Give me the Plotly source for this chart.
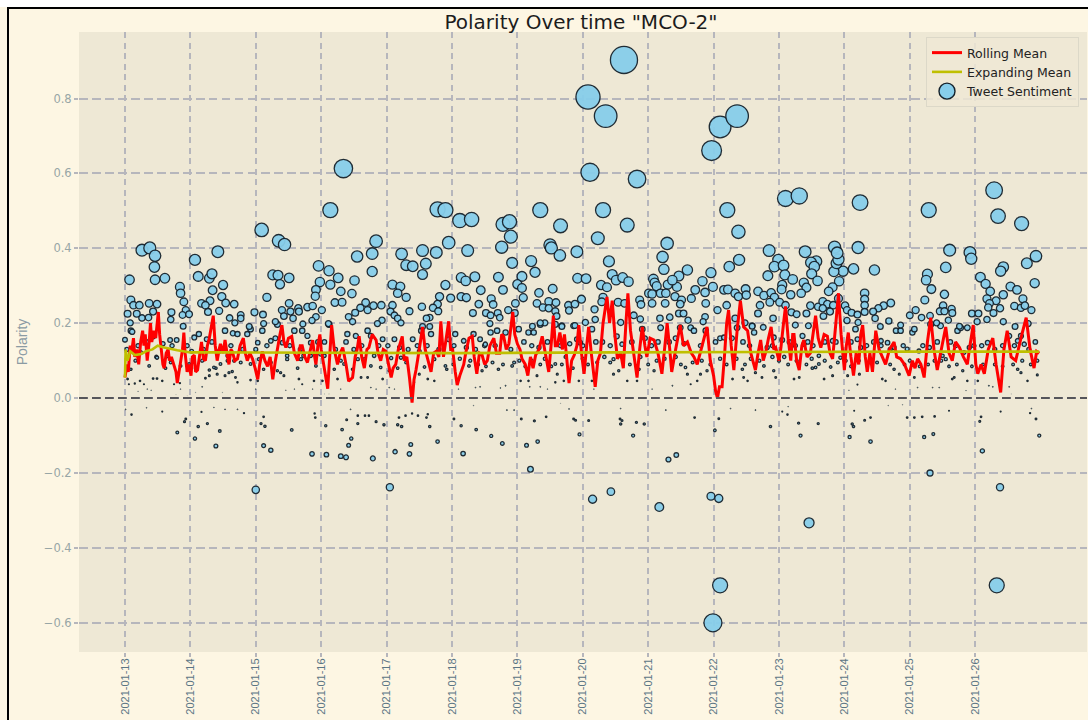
import pandas as pd
import plotly.graph_objects as go

START = "2021-01-13"
tick_dates = ["2021-01-%02d" % d for d in range(13, 27)]
y_ticks = [-0.6, -0.4, -0.2, 0.0, 0.2, 0.4, 0.6, 0.8]
y_tick_text = ["\u22120.6", "\u22120.4", "\u22120.2", "0.0", "0.2", "0.4", "0.6", "0.8"]

# (days since 2021-01-13, polarity)
tweets_peak = [(7.08,0.804),(7.35,0.753),(7.63,0.903),(9.10,0.724),(9.36,0.753),(8.97,0.661),(7.11,0.603),(7.83,0.585),
(3.34,0.613),(3.14,0.502),(8.99,-0.6),(9.10,-0.5),(13.33,-0.5),(10.46,-0.333),(8.17,-0.291),(7.15,-0.27),(7.43,-0.25),
(8.96,-0.262),(9.08,-0.268),(2.0,-0.245),(4.05,-0.238),(13.38,-0.238),(6.2,-0.19),(12.31,-0.2)]

tweets_upper_a = [(2.09,0.449),(2.35,0.420),(2.44,0.410),(3.84,0.419),(0.26,0.395),(0.38,0.401),(0.46,0.380),(0.45,0.350),(0.07,0.316),(0.46,0.316),(0.61,0.320),(1.07,0.369),(1.42,0.391),(1.12,0.325),(1.29,0.320),(1.33,0.332),(1.50,0.302),(0.84,0.297),(0.85,0.280),(1.34,0.288),(1.48,0.271),(0.90,0.257),(1.30,0.260),(1.17,0.253),(1.23,0.248),(1.54,0.254),(1.67,0.251),(0.09,0.262),(0.13,0.248),(0.22,0.248),(0.37,0.253),(0.49,0.251),(0.43,0.231),(0.71,0.229),(0.93,0.235),(0.88,0.222),(0.98,0.224),(1.27,0.230),(1.44,0.233),(0.04,0.225),(0.18,0.225),(0.26,0.214),(0.36,0.215),(0.70,0.210),(0.08,0.201),(0.89,0.192),(1.60,0.214),(1.77,0.222),(1.77,0.213),(1.98,0.229),(2.11,0.223),(1.68,0.201),(2.17,0.269),(2.26,0.329),(2.34,0.328),(2.51,0.321),(2.37,0.304),(2.96,0.353),(3.12,0.340),(3.26,0.321),(3.55,0.378),(3.78,0.386),(3.78,0.338),(3.51,0.314),(4.23,0.385),(4.30,0.355),(4.40,0.352),(2.98,0.310),(3.14,0.303),(2.92,0.289),(2.91,0.272),(3.30,0.285),(3.47,0.279),(4.09,0.303),(4.21,0.298),(4.17,0.280),(4.30,0.269),(3.21,0.255),(3.32,0.256),(3.68,0.255),(3.60,0.241),(3.71,0.235),(3.80,0.247),(3.92,0.248),(4.09,0.248),(4.06,0.231),(4.35,0.232),(4.12,0.221),(4.17,0.213),(4.22,0.201),(3.52,0.228),(3.42,0.217),(3.93,0.208),(3.48,0.204),(3.86,0.199),(3.11,0.199),(2.40,0.235),(2.51,0.253),(2.53,0.231),(2.65,0.240),(2.66,0.231),(2.79,0.243),(2.87,0.246),(3.01,0.235),(2.92,0.217),(2.43,0.219),(2.57,0.213),(2.86,0.207),(2.72,0.198),(2.30,0.204),(2.12,0.199),(1.90,0.191)]

tweets_upper_b = [(4.78,0.504),(4.90,0.502),(5.12,0.474),(5.30,0.477),(5.78,0.464),(5.88,0.471),(6.35,0.502),(6.66,0.460),(7.31,0.502),(7.68,0.462),(9.21,0.502),(7.23,0.427),(5.90,0.431),(4.95,0.415),(6.50,0.409),(6.52,0.401),(5.76,0.403),(5.24,0.394),(4.76,0.389),(4.55,0.394),(6.65,0.381),(6.91,0.391),(4.60,0.359),(4.55,0.330),(5.92,0.361),(6.21,0.366),(6.27,0.336),(6.07,0.325),(5.71,0.323),(5.14,0.322),(5.21,0.313),(5.35,0.324),(4.90,0.302),(5.44,0.288),(5.78,0.289),(6.00,0.304),(6.07,0.294),(6.33,0.281),(6.54,0.292),(6.09,0.268),(5.60,0.265),(4.81,0.271),(4.98,0.267),(5.14,0.271),(5.22,0.268),(4.78,0.251),(4.71,0.241),(4.79,0.232),(5.41,0.251),(5.63,0.250),(5.97,0.253),(5.32,0.227),(5.52,0.227),(5.59,0.221),(5.70,0.227),(5.86,0.235),(5.73,0.215),(5.96,0.227),(6.30,0.253),(6.39,0.242),(6.48,0.258),(6.48,0.240),(6.59,0.255),(6.58,0.232),(6.78,0.248),(6.79,0.234),(6.88,0.251),(6.98,0.264),(6.60,0.219),(6.92,0.320),(7.05,0.319),(7.40,0.365),(7.45,0.330),(7.28,0.302),(7.37,0.296),(7.51,0.315),(7.61,0.322),(7.70,0.311),(8.29,0.413),(8.22,0.377),(8.24,0.344),(8.60,0.342),(8.47,0.326),(8.08,0.318),(8.10,0.308),(8.13,0.299),(8.30,0.303),(8.44,0.297),(8.37,0.315),(8.96,0.335),(8.83,0.312),(9.24,0.351),(9.38,0.444),(9.39,0.369),(8.99,0.297),(8.87,0.282),(8.72,0.289),(8.01,0.280),(8.06,0.278),(8.19,0.280),(8.27,0.280),(8.41,0.271),(8.51,0.262),(8.66,0.266),(8.49,0.251),(8.26,0.253),(8.06,0.253),(7.87,0.262),(7.89,0.250),(7.54,0.256),(7.64,0.253),(7.31,0.269),(7.29,0.257),(7.18,0.237),(7.78,0.221),(8.88,0.253),(9.06,0.235),(9.16,0.289),(9.22,0.290),(9.33,0.280),(9.38,0.271),(9.20,0.248),(8.47,0.226),(8.54,0.226),(8.33,0.216),(8.18,0.213),(8.87,0.217),(8.84,0.204),(8.61,0.208),(9.33,0.213),(7.19,0.210),(7.04,0.202),(6.42,0.201),(6.35,0.201),(6.23,0.192),(6.88,0.194),(6.68,0.191),(4.66,0.215),(4.61,0.213),(4.54,0.244),(4.55,0.191),(4.66,0.191),(5.58,0.199)]

tweets_upper_c = [(10.10,0.533),(10.31,0.540),(11.24,0.522),(12.29,0.502),(13.29,0.555),(13.35,0.486),(13.71,0.466),(9.85,0.394),(10.40,0.391),(10.85,0.403),(11.21,0.402),(12.61,0.395),(12.92,0.389),(12.94,0.372),(13.93,0.379),(13.79,0.360),(13.43,0.350),(13.39,0.339),(12.55,0.349),(11.46,0.342),(11.14,0.345),(10.98,0.339),(10.84,0.338),(10.88,0.360),(10.91,0.370),(10.89,0.388),(10.57,0.365),(10.49,0.362),(10.54,0.351),(10.50,0.332),(10.59,0.313),(10.92,0.312),(10.38,0.308),(10.42,0.295),(10.82,0.296),(10.76,0.285),(9.99,0.369),(9.93,0.351),(10.07,0.354),(10.09,0.329),(9.83,0.327),(10.21,0.317),(10.05,0.302),(10.04,0.290),(13.08,0.323),(13.16,0.305),(13.54,0.298),(13.64,0.289),(13.91,0.307),(13.23,0.285),(13.43,0.276),(13.18,0.265),(13.32,0.260),(13.22,0.253),(13.20,0.242),(13.38,0.240),(13.73,0.265),(13.60,0.246),(13.70,0.241),(13.76,0.247),(13.86,0.235),(12.27,0.331),(12.25,0.315),(12.33,0.291),(12.53,0.277),(12.23,0.262),(11.31,0.280),(11.31,0.264),(11.31,0.248),(11.71,0.254),(11.60,0.247),(11.52,0.240),(11.44,0.231),(12.51,0.247),(12.64,0.238),(12.46,0.232),(12.53,0.232),(12.65,0.227),(12.09,0.235),(12.00,0.221),(12.18,0.215),(12.31,0.220),(12.95,0.226),(13.05,0.226),(13.28,0.227),(9.68,0.285),(9.49,0.291),(9.77,0.274),(9.88,0.281),(9.93,0.269),(9.50,0.275),(9.86,0.256),(9.71,0.248),(10.18,0.276),(10.34,0.280),(10.01,0.256),(10.10,0.248),(9.68,0.226),(10.19,0.229),(10.27,0.224),(10.42,0.226),(10.48,0.247),(10.60,0.244),(10.67,0.258),(10.74,0.251),(10.83,0.248),(10.67,0.240),(10.78,0.231),(10.68,0.219),(10.91,0.266),(11.01,0.247),(11.04,0.235),(11.11,0.228),(11.20,0.223),(11.31,0.230),(9.91,0.213),(11.04,0.207),(11.21,0.202),(11.47,0.213),(11.55,0.191),(11.68,0.206),(11.86,0.195),(12.41,0.201),(12.59,0.208),(12.76,0.192),(13.03,0.204),(13.18,0.210),(13.43,0.204),(13.81,0.199),(13.61,0.191),(9.48,0.201),(9.59,0.192),(9.76,0.189),(10.25,0.195),(10.45,0.193)]

tweets_negative = [(0.01,-0.03),(0.10,-0.044),(0.33,-0.026),(0.57,-0.036),(0.80,-0.092),(0.93,-0.056),(0.91,-0.063),(1.12,-0.076),(1.26,-0.068),(1.07,-0.108),(1.45,-0.088),(1.39,-0.128),(1.17,-0.037),(1.36,-0.025),(1.53,-0.03),(1.72,-0.03),(1.82,-0.04),(2.12,-0.05),(2.08,-0.068),(2.14,-0.075),(2.55,-0.085),(2.12,-0.127),(2.23,-0.139),(2.90,-0.041),(2.91,-0.052),(3.07,-0.074),(3.32,-0.084),(3.46,-0.108),(3.42,-0.126),(2.86,-0.149),(3.08,-0.151),(3.30,-0.155),(3.38,-0.158),(3.79,-0.161),(3.45,-0.03),(3.56,-0.047),(3.67,-0.047),(3.73,-0.047),(3.39,-0.058),(3.56,-0.068),(3.84,-0.063),(3.96,-0.071),(4.17,-0.071),(4.23,-0.076),(4.19,-0.052),(4.29,-0.047),(4.39,-0.041),(4.48,-0.047),(4.63,-0.043),(4.61,-0.052),(4.66,-0.076),(4.37,-0.124),(4.78,-0.116),(4.13,-0.143),(4.35,-0.149),
(5.03,-0.056),(5.14,-0.074),(5.37,-0.084),(5.60,-0.101),(5.77,-0.121),(6.14,-0.126),(6.31,-0.116),(5.33,-0.02),(5.17,-0.148),(6.06,-0.056),(6.26,-0.061),(6.44,-0.05),(5.84,-0.032),(5.95,-0.032),(6.66,-0.014),(6.79,-0.029),(6.86,-0.056),(6.89,-0.059),(7.09,-0.06),(6.95,-0.097),(7.58,-0.028),(7.57,-0.056),(7.60,-0.06),(7.58,-0.069),(7.77,-0.1),(7.82,-0.065),(7.94,-0.069),(8.27,-0.032),(8.71,-0.052),(9.08,-0.055),(9.02,-0.086),(8.43,-0.152),(8.31,-0.164),(9.26,-0.028),(9.64,-0.032),
(9.87,-0.076),(10.05,-0.036),(10.13,-0.044),(10.14,-0.023),(10.30,-0.067),(10.60,-0.068),(10.33,-0.1),(11.15,-0.034),(11.12,-0.069),(11.14,-0.076),(11.31,-0.059),(11.40,-0.052),(11.08,-0.104),(11.40,-0.116),(11.67,-0.02),(11.89,-0.018),(11.96,-0.052),(12.07,-0.052),(12.19,-0.05),(12.38,-0.049),(12.22,-0.104),(12.36,-0.096),(12.60,-0.034),(13.09,-0.05),(13.07,-0.062),(13.11,-0.141),(13.39,-0.036),(13.86,-0.028),(13.84,-0.04),(13.93,-0.056),(13.98,-0.1)]

tweets_low = [(0.04,0.051),(0.06,0.037),(0.15,0.039),(0.23,0.046),(0.29,0.037),(0.43,0.052),(0.49,0.052),(0.57,0.046),(0.75,0.037),(0.84,0.04),(0.85,0.024),(0.20,0.018),(0.34,0.024),(0.40,0.021),(0.78,0.009),(0.95,0.006),(1.08,0.015),(1.18,0.03),(1.23,0.053),(1.29,0.06),(1.41,0.064),(1.53,0.06),(1.59,0.068),(1.69,0.055),(1.72,0.042),(1.49,0.015),(1.92,0.048),(2.03,0.046),(2.0,0.024),(2.38,0.068),(2.43,0.06),(2.66,0.051),(2.46,0.021),(2.59,0.024),(2.71,0.037),(2.89,0.046),(2.87,0.024),(3.05,0.011),(3.12,0.011),(3.02,0.046),(3.25,0.051),(3.30,0.024),(3.61,0.055),(3.71,0.055),(3.76,0.028),(3.84,0.024),(4.04,0.028),(4.12,0.024),(3.94,0.051),(4.04,0.073),(4.42,0.042),(4.63,0.051),(4.73,0.046),(4.5,0.064),
(4.90,0.086),(4.92,0.077),(5.26,0.086),(5.46,0.073),(5.71,0.077),(5.92,0.086),(6.05,0.046),(6.17,0.046),(6.30,0.06),(6.58,0.091),(6.61,0.064),(7.02,0.077),(7.47,0.104),(7.55,0.073),(7.86,0.077),(7.68,0.046),(7.83,0.046),(8.09,0.073),(8.06,0.024),(8.37,0.033),(8.57,0.082),(8.60,0.064),(8.80,0.064),(8.90,0.073),(8.75,0.046),(8.65,0.037),(9.29,0.051),(9.46,0.055),(9.44,0.077),(9.64,0.068),(9.52,0.046),(5.10,0.024),(5.36,0.028),(5.43,0.03),(5.74,0.027),(5.82,0.033),(6.19,0.03),(6.35,0.03),(6.46,0.024),(6.58,0.042),(7.17,0.024),(7.14,0.046),(6.71,0.046),(6.94,0.046),(7.47,0.064),
(9.77,0.086),(9.74,0.055),(9.92,0.073),(9.95,0.055),(10.23,0.051),(10.31,0.055),(10.51,0.08),(10.61,0.091),(10.69,0.051),(10.82,0.06),(10.79,0.083),(11.05,0.06),(11.23,0.064),(11.20,0.036),(11.07,0.021),(11.58,0.051),(11.63,0.046),(11.76,0.077),(11.84,0.064),(11.78,0.024),(12.07,0.055),(12.12,0.028),(12.35,0.028),(12.45,0.028),(12.65,0.051),(12.68,0.055),(12.81,0.073),(12.88,0.046),(12.86,0.02),(13.04,0.046),(13.21,0.033),(13.27,0.03),(13.52,0.03),(13.55,0.011),(13.65,0.077),(13.70,0.068),(13.80,0.046),(13.95,0.062)]

tweets_mid = [(0.0,0.156),(0.09,0.18),(0.11,0.177),(0.69,0.155),(0.79,0.155),(0.49,0.108),(0.65,0.113),(1.06,0.162),(1.13,0.171),(1.25,0.157),(1.53,0.18),(1.65,0.173),(1.72,0.171),(1.87,0.171),(1.92,0.184),(2.03,0.148),(2.10,0.18),(2.23,0.153),(2.33,0.197),(2.59,0.18),(2.71,0.18),(2.79,0.166),(2.84,0.148),(2.41,0.148),(1.67,0.1),(1.57,0.113),(1.36,0.082),(1.59,0.1),(2.48,0.113),(2.69,0.104),(2.84,0.113),(2.99,0.117),(3.12,0.197),(3.40,0.171),(3.53,0.166),(3.71,0.18),(3.76,0.166),(3.94,0.157),(4.12,0.157),(4.40,0.157),(4.53,0.18),(4.68,0.171),(4.47,0.14),(4.22,0.108),(3.30,0.1),(3.56,0.104),(3.81,0.113),
(5.05,0.171),(4.95,0.157),(5.18,0.153),(5.33,0.171),(5.43,0.157),(5.51,0.144),(5.59,0.175),(5.69,0.18),(5.82,0.175),(6.02,0.184),(6.17,0.175),(6.25,0.175),(6.35,0.197),(6.58,0.197),(6.68,0.193),(6.86,0.193),(6.96,0.148),(6.91,0.157),(7.14,0.184),(7.58,0.202),(7.60,0.144),(7.88,0.211),(7.91,0.184),(8.19,0.188),(8.49,0.188),(8.65,0.188),(8.70,0.18),(8.88,0.18),(9.16,0.162),(9.36,0.188),(9.59,0.193),(9.62,0.175),
(9.82,0.135),(9.92,0.162),(10.08,0.11),(10.36,0.166),(10.61,0.113),(10.94,0.108),(11.17,0.184),(11.56,0.153),(11.66,0.148),(11.79,0.18),(11.86,0.18),(12.04,0.175),(12.07,0.184),(12.32,0.197),(12.47,0.193),(12.73,0.18),(12.78,0.188),(12.88,0.188),(13.19,0.148),(13.52,0.166),(13.65,0.153),(13.75,0.144),(13.70,0.166),(12.50,0.113),(12.55,0.104),(12.83,0.122),(12.91,0.135),(12.30,0.135),(12.14,0.126),(11.96,0.131),(11.76,0.135),(11.56,0.14),(11.20,0.157),(10.82,0.153),(10.56,0.082),(10.38,0.144)]

tweets_band = [(0.09,0.077),(0.16,0.100),(0.24,0.122),(0.37,0.086),(0.48,0.110),(0.62,0.080),(0.70,0.095),(0.85,0.086),(0.98,0.091),(1.08,0.080),(1.18,0.100),(1.29,0.075),(1.39,0.080),(1.46,0.091),(1.57,0.100),(1.64,0.071),(1.77,0.095),(1.92,0.091),(2.05,0.104),(2.12,0.077),(2.23,0.095),(2.33,0.073),(2.48,0.104),(2.64,0.080),(2.73,0.113),(2.92,0.086),(3.05,0.113),(3.20,0.077),(3.35,0.091),(3.48,0.077),(3.66,0.104),(3.76,0.086),(3.91,0.082),(4.07,0.107),(4.17,0.080),(4.30,0.095),(4.58,0.083),(4.73,0.104),
(0.03,0.13),(0.2,0.14),(0.33,0.15),(0.43,0.165),(0.58,0.145),(0.72,0.14),(0.95,0.14),(1.02,0.125),(1.2,0.13),(1.33,0.15),(1.44,0.125),(1.62,0.14),(1.8,0.13),(2.0,0.13),(2.17,0.14),(2.3,0.16),(2.52,0.14),(2.68,0.13),(2.95,0.15),(3.05,0.15),(3.22,0.13),(3.38,0.15),(3.5,0.13),(3.62,0.14),(3.88,0.14),(4.02,0.14),(4.2,0.135),(4.33,0.13),(4.5,0.125),(4.62,0.14),(4.8,0.13),
(5.02,0.09),(5.12,0.105),(5.28,0.1),(5.4,0.09),(5.52,0.085),(5.62,0.095),(5.78,0.09),(5.95,0.095),(6.03,0.1),(6.12,0.085),(6.22,0.1),(6.35,0.09),(6.42,0.105),(6.52,0.085),(6.68,0.09),(6.74,0.11),(6.85,0.08),(7.0,0.105),(7.08,0.09),(7.22,0.095),(7.33,0.11),(7.42,0.095),(7.6,0.11),(7.72,0.09),(7.88,0.11),(8.0,0.09),(8.13,0.1),(8.25,0.105),(8.42,0.11),(8.5,0.09),(8.68,0.095),(8.82,0.1),(8.95,0.09),(9.1,0.105),(9.2,0.09),(9.35,0.105),(9.48,0.09),(9.57,0.105),(9.7,0.1),
(5.03,0.14),(5.22,0.135),(5.36,0.13),(5.5,0.14),(5.66,0.14),(5.9,0.13),(6.1,0.15),(6.22,0.14),(6.33,0.135),(6.46,0.15),(6.66,0.14),(6.8,0.145),(7.0,0.14),(7.2,0.15),(7.3,0.15),(7.42,0.14),(7.52,0.165),(7.75,0.15),(7.95,0.16),(8.05,0.14),(8.15,0.15),(8.32,0.15),(8.42,0.16),(8.55,0.145),(8.8,0.14),(9.03,0.15),(9.1,0.16),(9.28,0.16),(9.45,0.15),(9.55,0.14),
(9.9,0.11),(10.0,0.1),(10.14,0.09),(10.27,0.1),(10.42,0.09),(10.5,0.105),(10.7,0.1),(10.9,0.095),(11.02,0.1),(11.1,0.085),(11.22,0.1),(11.35,0.09),(11.5,0.095),(11.7,0.09),(11.92,0.09),(12.0,0.1),(12.15,0.085),(12.28,0.09),(12.38,0.1),(12.48,0.1),(12.6,0.085),(12.72,0.09),(12.95,0.085),(13.12,0.09),(13.3,0.09),(13.42,0.085),(13.58,0.09),(13.72,0.1),(13.85,0.09),(13.95,0.1),
(9.9,0.14),(10.05,0.155),(10.16,0.15),(10.25,0.14),(10.44,0.15),(10.52,0.14),(10.7,0.15),(10.87,0.15),(11.1,0.15),(11.25,0.135),(11.34,0.14),(11.45,0.15),(11.7,0.13),(11.9,0.14),(12.2,0.14),(12.42,0.15),(12.62,0.15),(12.7,0.14),(12.98,0.14),(13.1,0.14),(13.3,0.13),(13.42,0.14),(13.6,0.14),(13.82,0.13),(13.92,0.15)]

rolling_mean = [(0.00,.055),(.03,.09),(.05,.07),(.08,.14),(.10,.12),(.13,.16),(.15,.11),(.18,.13),(.21,.09),(.24,.15),(.27,.18),(.29,.14),(.31,.17),(.34,.10),(.37,.15),(.39,.20),(.41,.15),(.44,.18),(.47,.16),(.51,.23),(.53,.17),(.55,.13),(.58,.09),(.60,.08),(.63,.12),(.66,.13),(.68,.10),(.71,.11),(.75,.09),(.78,.07),(.80,.04),(.83,.07),(.85,.10),(.88,.13),(.90,.175),(.92,.12),(.95,.07),(.98,.09),(1.01,.06),
(1.03,.11),(1.06,.115),(1.08,.07),(1.11,.075),(1.14,.12),(1.17,.15),(1.20,.105),(1.23,.10),(1.26,.14),(1.29,.16),(1.32,.19),(1.35,.22),(1.38,.14),(1.41,.10),(1.44,.13),(1.46,.145),(1.50,.12),(1.53,.155),(1.56,.12),(1.59,.09),(1.62,.13),(1.64,.125),(1.68,.10),(1.72,.105),(1.76,.14),(1.81,.16),(1.84,.12),(1.87,.10),(1.91,.12),(1.95,.105),(1.99,.08),
(2.03,.05),(2.06,.09),(2.10,.125),(2.14,.10),(2.18,.085),(2.22,.11),(2.26,.05),(2.30,.10),(2.33,.135),(2.37,.17),(2.40,.195),(2.43,.15),(2.46,.135),(2.50,.16),(2.55,.165),(2.59,.12),(2.64,.10),(2.68,.14),(2.71,.14),(2.75,.11),(2.79,.095),(2.83,.13),(2.87,.155),(2.90,.11),(2.92,.09),(2.95,.14),(2.98,.17),(3.0,.13),
(3.04,.09),(3.07,.05),(3.10,.025),(3.13,.11),(3.16,.195),(3.20,.13),(3.25,.09),(3.29,.12),(3.33,.135),(3.38,.09),(3.42,.045),(3.48,.055),(3.52,.11),(3.55,.13),(3.58,.165),(3.62,.11),(3.66,.08),(3.70,.13),(3.73,.135),(3.78,.17),(3.84,.155),(3.87,.12),(3.91,.10),(3.95,.13),(3.99,.125),
(4.03,.09),(4.07,.055),(4.10,.08),(4.14,.09),(4.18,.13),(4.24,.165),(4.27,.10),(4.31,.11),(4.35,.055),(4.39,-.012),(4.42,.05),(4.45,.075),(4.50,.13),(4.55,.19),(4.59,.13),(4.63,.10),(4.68,.07),(4.72,.12),(4.76,.125),(4.80,.11),(4.83,.205),(4.87,.11),(4.91,.16),(4.95,.205),(4.98,.13),
(5.01,.13),(5.05,.07),(5.08,.035),(5.12,.06),(5.15,.075),(5.18,.09),(5.21,.12),(5.26,.16),(5.31,.165),(5.34,.11),(5.38,.065),(5.42,.12),(5.46,.115),(5.50,.09),(5.54,.10),(5.58,.14),(5.64,.16),(5.68,.12),(5.73,.12),(5.76,.17),(5.79,.165),(5.83,.13),(5.87,.145),(5.93,.23),(5.96,.17),
(6.0,.145),(6.04,.13),(6.07,.105),(6.12,.09),(6.16,.06),(6.20,.11),(6.24,.08),(6.28,.115),(6.33,.13),(6.38,.165),(6.43,.12),(6.48,.07),(6.52,.15),(6.55,.22),(6.58,.14),(6.61,.14),(6.65,.175),(6.69,.13),(6.72,.17),(6.76,.10),(6.79,.04),(6.83,.10),(6.87,.115),(6.91,.14),(6.94,.195),(6.98,.12),
(7.02,.065),(7.06,.14),(7.09,.19),(7.13,.12),(7.16,.07),(7.19,.03),(7.23,.10),(7.27,.12),(7.31,.20),(7.35,.25),(7.37,.27),(7.41,.20),(7.45,.26),(7.49,.17),(7.53,.105),(7.58,.12),(7.62,.08),(7.66,.20),(7.69,.28),(7.73,.18),(7.78,.11),(7.83,.055),(7.87,.13),(7.91,.19),(7.95,.14),(7.98,.11),
(8.03,.16),(8.09,.155),(8.15,.12),(8.21,.065),(8.25,.13),(8.29,.20),(8.33,.13),(8.36,.07),(8.42,.13),(8.49,.195),(8.54,.14),(8.60,.15),(8.66,.12),(8.70,.11),(8.75,.09),(8.81,.13),(8.86,.16),(8.90,.19),(8.95,.10),(9.0,.06),
(9.03,.02),(9.06,0.0),(9.09,.03),(9.13,.03),(9.17,.12),(9.20,.20),(9.23,.235),(9.27,.14),(9.31,.075),(9.36,.18),(9.41,.26),(9.46,.19),(9.52,.18),(9.57,.12),(9.60,.10),(9.64,.075),(9.68,.12),(9.72,.155),(9.76,.10),(9.80,.125),(9.84,.16),(9.88,.19),(9.92,.13),(9.95,.135),
(10.0,.10),(10.03,.135),(10.07,.20),(10.10,.245),(10.14,.16),(10.18,.10),(10.21,.17),(10.23,.17),(10.27,.10),(10.31,.075),(10.35,.14),(10.38,.155),(10.43,.11),(10.48,.12),(10.52,.17),(10.56,.22),(10.60,.16),(10.64,.135),(10.69,.17),(10.74,.165),(10.78,.12),(10.82,.105),(10.87,.20),(10.91,.28),(10.95,.17),
(11.0,.075),(11.03,.14),(11.06,.175),(11.10,.11),(11.14,.06),(11.18,.12),(11.22,.09),(11.25,.17),(11.28,.195),(11.32,.11),(11.35,.07),(11.39,.12),(11.43,.07),(11.48,.18),(11.53,.13),(11.58,.11),(11.63,.09),(11.69,.13),(11.76,.15),(11.80,.11),(11.86,.105),(11.92,.09),(11.99,.06),
(12.04,.10),(12.08,.08),(12.12,.105),(12.17,.09),(12.22,.055),(12.27,.15),(12.32,.215),(12.37,.13),(12.42,.075),(12.48,.13),(12.55,.19),(12.60,.12),(12.65,.10),(12.70,.15),(12.76,.135),(12.82,.11),(12.88,.09),(12.92,.14),(12.97,.195),
(13.01,.09),(13.04,.065),(13.09,.09),(13.14,.065),(13.20,.13),(13.27,.16),(13.32,.09),(13.36,.05),(13.39,.015),(13.44,.13),(13.49,.18),(13.55,.11),(13.62,.10),(13.70,.16),(13.78,.215),(13.84,.13),(13.90,.08),(13.94,.125),(13.98,.12)]

expanding_mean = [(0.0,0.055),(0.01,0.13),(0.04,0.10),(0.08,0.125),(0.15,0.115),(0.25,0.118),(0.32,0.125),(0.42,0.13),(0.5,0.14),(0.6,0.135),(0.8,0.128),(1.0,0.122),(1.5,0.122),(2.5,0.121),(5.0,0.12),(7.5,0.122),(10.0,0.124),(12.0,0.124),(13.98,0.124)]

tweet_rows = [p for g in (tweets_low, tweets_band, tweets_mid, tweets_upper_a, tweets_upper_b, tweets_upper_c, tweets_negative, tweets_peak) for p in g]

def to_dates(days):
    return pd.Timestamp(START) + pd.to_timedelta(pd.Series(days), unit="D")

GRID = "#b6b6bc"
tx = to_dates([p[0] for p in tweet_rows])
ty = [p[1] for p in tweet_rows]
sizes = [max(0.3, abs(v) * 30) for v in ty]
edge = [min(1.3, abs(v) * 30) for v in ty]

fig = go.Figure()
fig.add_trace(go.Scatter(x=tx, y=ty, mode="markers", showlegend=False, hoverinfo="skip",
    marker=dict(size=sizes, color="#87CEEB", opacity=0.95, line=dict(color="#15222c", width=edge))))
fig.add_trace(go.Scatter(x=to_dates([p[0] for p in rolling_mean]), y=[p[1] for p in rolling_mean],
    mode="lines", name="Rolling Mean", line=dict(color="#ff0000", width=3)))
fig.add_trace(go.Scatter(x=to_dates([p[0] for p in expanding_mean]), y=[p[1] for p in expanding_mean],
    mode="lines", name="Expanding Mean", line=dict(color="#bfbf00", width=2.6)))
fig.add_trace(go.Scatter(x=[None], y=[None], mode="markers", name="Tweet Sentiment",
    marker=dict(size=16, color="#87CEEB", line=dict(color="#15222c", width=1.4))))

fig.add_hline(y=0, line=dict(color="#55555a", width=2, dash="8.5px,4.5px"))

PW, PH = 1008, 620
fig.update_layout(
    width=1088, height=720,
    margin=dict(l=79, r=1, t=32, b=68),
    paper_bgcolor="#fdf6e3", plot_bgcolor="#eee8d5",
    font=dict(family="DejaVu Sans", color="#586e75"),
    title=dict(text='Polarity Over time "MCO-2"', x=581/1088, xanchor="center", y=1-22/720, yanchor="middle",
               font=dict(size=20, color="#1c1c1c", family="DejaVu Sans")),
    xaxis=dict(type="date", range=[to_dates([-0.703])[0], to_dates([14.71])[0]],
               tickvals=tick_dates, ticktext=tick_dates, tickangle=-90, automargin=False,
               tickfont=dict(size=11, color="#5b7585", family="Liberation Sans"), ticklabelstandoff=-3,
               showgrid=True, gridcolor=GRID, gridwidth=2, griddash="6px,4.5px",
               ticks="outside", ticklen=4, tickcolor=GRID, tickwidth=2, zeroline=False, showline=False),
    yaxis=dict(range=[-0.678, 0.9776], tickvals=y_ticks, ticktext=y_tick_text, automargin=False,
               tickfont=dict(size=11.5, color="#98a6a6"),
               title=dict(text="Polarity", font=dict(size=14, color="#8b9ba3", family="Liberation Sans"), standoff=12),
               showgrid=True, gridcolor=GRID, gridwidth=2, griddash="8.5px,4.5px",
               ticks="outside", ticklen=4, tickcolor=GRID, tickwidth=2, zeroline=False, showline=False),
    legend=dict(x=(1079-79)/PW, xanchor="right", y=1-(37-32)/PH, yanchor="top",
                bgcolor="rgba(238,232,213,0.85)", bordercolor="#dcd8c8", borderwidth=1,
                font=dict(size=12.5, color="#222222"), itemwidth=30, tracegroupgap=0),
    shapes=[
        dict(type="rect", xref="paper", yref="paper", x0=-79/PW, x1=-7/PW, y0=-68/PH, y1=1+32/PH, fillcolor="white", line_width=0, layer="above"),
        dict(type="rect", xref="paper", yref="paper", x0=-79/PW, x1=1+1/PW, y0=1+25/PH, y1=1+32/PH, fillcolor="white", line_width=0, layer="above"),
        dict(type="rect", xref="paper", yref="paper", x0=-72/PW, x1=-70/PW, y0=-68/PH, y1=1+25/PH, fillcolor="black", line_width=0, layer="above"),
        dict(type="rect", xref="paper", yref="paper", x0=-72/PW, x1=1+1/PW, y0=1+23/PH, y1=1+25/PH, fillcolor="black", line_width=0, layer="above"),
    ] + list(fig.layout.shapes),
)
fig.write_html("out.html", config=dict(displayModeBar=False),
               post_script="document.body.style.margin='0';document.body.style.overflow='hidden';")
